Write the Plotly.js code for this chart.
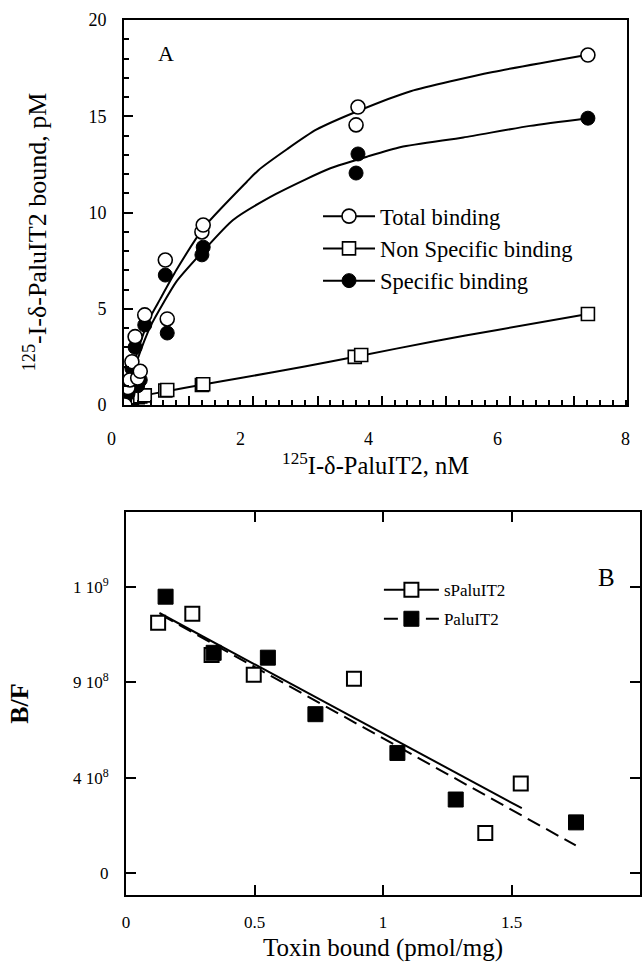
<!DOCTYPE html>
<html>
<head>
<meta charset="utf-8">
<script src="https://cdn.plot.ly/plotly-3.0.1.min.js"></script>
<style>html,body{margin:0;padding:0;background:#fff;}</style>
</head>
<body>
<div id="chart" style="width:642px;height:962px;"></div>
<script>
// ---------- Panel A: saturation binding ----------
const totalX = [0.20, 0.25, 0.28, 0.31, 0.36, 0.40, 0.44, 0.51, 0.83, 0.86, 1.40, 1.42, 3.80, 3.83, 7.41];
const totalY = [0.0, 0.9, 1.3, 2.25, 3.55, 1.4, 1.75, 4.68, 7.53, 4.47, 8.99, 9.35, 14.55, 15.48, 18.18];
const specX  = [0.20, 0.25, 0.28, 0.31, 0.36, 0.40, 0.44, 0.51, 0.83, 0.86, 1.40, 1.42, 3.80, 3.83, 7.41];
const specY  = [0.3, 0.6, 0.9, 1.9, 3.0, 1.0, 1.3, 4.16, 6.75, 3.74, 7.8, 8.2, 12.05, 13.04, 14.9];
const nsX    = [0.20, 0.25, 0.28, 0.31, 0.36, 0.40, 0.44, 0.51, 0.83, 0.86, 1.40, 1.42, 3.78, 3.88, 7.41];
const nsY    = [0.35, 0.4, 0.3, 0.35, 0.45, 0.4, 0.45, 0.5, 0.75, 0.78, 1.04, 1.08, 2.5, 2.6, 4.73];

// fitted curves
const totalFitX = [0.2, 0.3, 0.4, 0.5, 0.6, 0.75, 1.0, 1.45, 2.1, 2.28, 2.73, 3.18, 3.85, 4.65, 5.93, 7.41];
const totalFitY = [0.6, 1.7, 2.8, 3.8, 4.6, 5.5, 7.0, 9.3, 11.6, 12.2, 13.3, 14.3, 15.3, 16.3, 17.3, 18.2];
const specFitX  = [0.2, 0.3, 0.4, 0.5, 0.6, 0.8, 1.0, 1.42, 1.88, 2.46, 3.0, 3.4, 3.97, 4.5, 5.47, 6.51, 7.41];
const specFitY  = [0.4, 1.4, 2.4, 3.3, 4.1, 5.3, 6.4, 8.0, 9.6, 10.8, 11.7, 12.3, 12.9, 13.4, 13.9, 14.5, 14.9];
const nsFitX    = [0.2, 0.5, 0.83, 1.4, 2.0, 3.0, 3.85, 5.0, 6.0, 7.41];
const nsFitY    = [0.3, 0.5, 0.7, 1.05, 1.4, 2.0, 2.55, 3.3, 3.9, 4.73];

const xTickLabelsA = [0, 2, 4, 6, 8];
const seriesNamesA = ["Total binding", "Non Specific binding", "Specific binding"];

// ---------- Panel B: Scatchard ----------
const sPaluX = [0.125, 0.258, 0.333, 0.497, 0.887, 1.398, 1.536];
const sPaluY = [1.182e9, 1.224e9, 1.03e9, 0.936e9, 0.918e9, 0.189e9, 0.423e9];
const paluX  = [0.154, 0.341, 0.552, 0.737, 1.056, 1.283, 1.751];
const paluY  = [1.305e9, 1.04e9, 1.017e9, 0.75e9, 0.567e9, 0.347e9, 0.239e9];
const sPaluFitX = [0.13, 1.54];
const sPaluFitY = [1.228e9, 0.306e9];
const paluFitX  = [0.135, 1.75];
const paluFitY  = [1.22e9, 0.13e9];
const yTickValsB = [0, 4.5e8, 9e8, 1.35e9];
const yTickTextB = ["0", "4 10<sup>8</sup>", "9 10<sup>8</sup>", "1 10<sup>9</sup>"];
const seriesNamesB = ["sPaluIT2", "PaluIT2"];

const FONT = "Liberation Serif, Times New Roman, serif";
const xRangeA = [0.187, 8.02];

const openCircle = {symbol: 'circle', size: 14, color: '#fff', line: {color: '#000', width: 1.6}};
const filledCircle = {symbol: 'circle', size: 14, color: '#000', line: {color: '#000', width: 1}};
const openSquareA = {symbol: 'square', size: 13, color: '#fff', line: {color: '#000', width: 1.6}};
const openSquareB = {symbol: 'square', size: 14, color: '#fff', line: {color: '#000', width: 2}};
const filledSquareB = {symbol: 'square', size: 15, color: '#000', line: {color: '#000', width: 1}};
const hideMarkers = {marker: {opacity: 0}};

// curve traces carry the legend (line + marker symbol); their own markers are hidden
function curve(x, y, xa, ya, name, marker, legend, dash, shape) {
  return {x: x, y: y, xaxis: xa, yaxis: ya, name: name, mode: 'lines+markers',
    line: {color: '#000', width: 2, dash: dash || 'solid', shape: shape || 'linear', smoothing: 0.6},
    marker: marker, selectedpoints: [], unselected: hideMarkers, legend: legend, legendgroup: name, hoverinfo: 'skip'};
}
function pts(x, y, xa, ya, marker) {
  return {x: x, y: y, xaxis: xa, yaxis: ya, mode: 'markers', marker: marker, showlegend: false, hoverinfo: 'skip', cliponaxis: true};
}

const traces = [
  curve(totalFitX, totalFitY, 'x', 'y', seriesNamesA[0], openCircle, 'legend', 'solid', 'spline'),
  curve(nsFitX, nsFitY, 'x', 'y', seriesNamesA[1], openSquareA, 'legend', 'solid', 'spline'),
  curve(specFitX, specFitY, 'x', 'y', seriesNamesA[2], filledCircle, 'legend', 'solid', 'spline'),
  pts(nsX, nsY, 'x', 'y', openSquareA),
  pts(specX, specY, 'x', 'y', filledCircle),
  pts(totalX, totalY, 'x', 'y', openCircle),
  curve(sPaluFitX, sPaluFitY, 'x2', 'y2', seriesNamesB[0], openSquareB, 'legend2', 'solid'),
  curve(paluFitX, paluFitY, 'x2', 'y2', seriesNamesB[1], filledSquareB, 'legend2', '14px,7px'),
  pts(sPaluX, sPaluY, 'x2', 'y2', openSquareB),
  pts(paluX, paluY, 'x2', 'y2', filledSquareB)
];

const annotations = [
  {text: 'A', xref: 'x domain', yref: 'y domain', x: 0.083, y: 0.914, xanchor: 'center', yanchor: 'middle',
   showarrow: false, font: {family: FONT, size: 22, color: '#000'}},
  {text: 'B', xref: 'x2 domain', yref: 'y2 domain', x: 0.934, y: 0.828, xanchor: 'center', yanchor: 'middle',
   showarrow: false, font: {family: FONT, size: 25, color: '#000'}}
];
xTickLabelsA.forEach(v => {
  annotations.push({text: String(v), xref: 'x domain', yref: 'y domain',
    x: (v - xRangeA[0]) / (xRangeA[1] - xRangeA[0]), y: 0, xanchor: 'center', yanchor: 'top', yshift: -22,
    showarrow: false, font: {family: FONT, size: 18, color: '#000'}});
});

const layout = {
  width: 642, height: 962,
  margin: {l: 124, r: 2, t: 20, b: 67},
  paper_bgcolor: '#fff', plot_bgcolor: '#fff',
  font: {family: FONT, color: '#000'},
  showlegend: true,
  xaxis: {domain: [0, 0.975], range: xRangeA, anchor: 'y',
    showline: true, linewidth: 2, linecolor: '#000', mirror: true, showgrid: false, zeroline: false,
    ticks: 'inside', tick0: 0.2, dtick: 1, ticklen: 9, tickwidth: 2, tickcolor: '#000', showticklabels: false,
    minor: {ticks: 'inside', tick0: 0.2, dtick: 0.2, ticklen: 5, tickwidth: 2, tickcolor: '#000', showgrid: false},
    title: {text: '<sup>125</sup>I-δ-PaluIT2, nM', font: {family: FONT, size: 24.5}, standoff: 51}},
  yaxis: {domain: [0.56, 1], range: [0, 20], anchor: 'x',
    showline: true, linewidth: 2, linecolor: '#000', mirror: true, showgrid: false, zeroline: false,
    ticks: 'inside', dtick: 5, ticklen: 9, tickwidth: 2, tickcolor: '#000', ticklabelstandoff: 12,
    tickfont: {family: FONT, size: 18},
    minor: {ticks: 'inside', dtick: 1, ticklen: 5, tickwidth: 2, tickcolor: '#000', showgrid: false},
    title: {text: '<sup>125</sup>-I-δ-PaluIT2 bound, pM&nbsp;&nbsp;&nbsp;&nbsp;&nbsp;&nbsp;', font: {family: FONT, size: 26}, standoff: 34}},
  xaxis2: {domain: [0.0039, 1], range: [0, 2], anchor: 'y2',
    showline: true, linewidth: 2, linecolor: '#000', mirror: 'ticks', showgrid: false, zeroline: false,
    ticks: 'inside', dtick: 0.5, ticklen: 10, tickwidth: 2, tickcolor: '#000', ticklabelstandoff: 11,
    tickfont: {family: FONT, size: 17},
    title: {text: 'Toxin bound (pmol/mg)', font: {family: FONT, size: 25}, standoff: 15}},
  yaxis2: {domain: [0, 0.4377], range: [-1.04e8, 1.705e9], anchor: 'x2',
    showline: true, linewidth: 2, linecolor: '#000', mirror: 'ticks', showgrid: false, zeroline: false,
    ticks: 'inside', tickvals: yTickValsB, ticktext: yTickTextB, ticklen: 10, tickwidth: 2, tickcolor: '#000', ticklabelstandoff: 12,
    tickfont: {family: FONT, size: 17},
    title: {text: '<b>B/F</b>', font: {family: FONT, size: 26}, standoff: 37}},
  legend: {x: 0.376, y: 0.80, xanchor: 'left', yanchor: 'top', bgcolor: 'rgba(0,0,0,0)', borderwidth: 0,
    font: {family: FONT, size: 22.5, color: '#000'}, traceorder: 'normal', itemwidth: 52},
  legend2: {x: 0.494, y: 0.369, xanchor: 'left', yanchor: 'top', bgcolor: 'rgba(0,0,0,0)', borderwidth: 0,
    font: {family: FONT, size: 17, color: '#000'}, traceorder: 'grouped', tracegroupgap: 4, itemwidth: 55},
  annotations: annotations
};

Plotly.newPlot('chart', traces, layout, {displayModeBar: false, staticPlot: true});
</script>
</body>
</html>
